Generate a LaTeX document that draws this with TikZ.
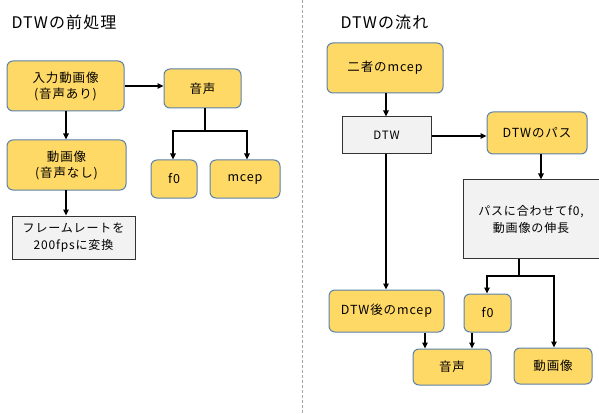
\documentclass[tikz,border=0pt]{standalone}
\usepackage{fontspec}
\setmainfont[LetterSpace=7]{Noto Sans CJK JP}
\usetikzlibrary{arrows.meta}
\definecolor{yel}{HTML}{FFD966}
\definecolor{ybord}{HTML}{5B80AB}
\definecolor{gfill}{HTML}{F2F2F2}
\tikzset{
  ybox/.style={draw=ybord, fill=yel, line width=1pt, rounded corners=6pt, align=center, font=\fontsize{12.5}{16}\selectfont},
  gbox/.style={draw=black!80, fill=gfill, line width=1pt, align=center, font=\fontsize{12}{17}\selectfont},
  conn/.style={line width=1.6pt, -{Triangle[length=6pt,width=5.5pt]}},
  plain/.style={line width=1.6pt},
  ttl/.style={font=\fontsize{16}{18}\selectfont, anchor=west}
}
\begin{document}
\begin{tikzpicture}[x=1pt,y=-1pt]
\useasboundingbox (0,0) rectangle (599,414);
\draw[gray!70, line width=0.8pt, dash pattern=on 3pt off 2pt] (302,0) -- (302,414);
% titles
\node[ttl] (t1) at (8,22) {DTWの前処理};
\node[ttl] (t2) at (337,22) {DTWの流れ};
% left nodes
\node[ybox, minimum width=117pt, minimum height=50pt] (in) at (65.5,86) {入力動画像\\(音声あり)};
\node[ybox, minimum width=77pt, minimum height=39pt] (ao) at (202.5,88.5) {音声};
\node[ybox, minimum width=119pt, minimum height=50pt] (mv) at (66.5,165) {動画像\\(音声なし)};
\node[gbox, minimum width=123pt, minimum height=43pt] (fr) at (73.5,237.5) {フレームレートを\\200fpsに変換};
\node[ybox, minimum width=46pt, minimum height=38pt] (f0l) at (174,179) {f0};
\node[ybox, minimum width=70pt, minimum height=38pt] (mcl) at (245,179) {mcep};
\coordinate (jl) at (205,131);
\draw[conn] (in.east |- 0,86) -- (ao.west |- 0,86);
\draw[conn] (66,111) -- (mv.north -| 66,0);
\draw[conn] (66,190) -- (fr.north -| 66,0);
\draw[plain] (ao.south -| jl) -- (jl);
\draw[conn] (jl) -| (f0l.north -| 173,0);
\draw[conn] (jl) -| (mcl.north -| 247,0);
% right nodes
\node[ybox, minimum width=116pt, minimum height=50pt] (two) at (385,68) {二者のmcep};
\node[gbox, minimum width=89pt, minimum height=37pt, font=\fontsize{11.5}{14}\selectfont] (dtw) at (386.5,135.5) {DTW};
\node[ybox, minimum width=100pt, minimum height=42pt] (path) at (537,133) {DTWのパス};
\node[gbox, minimum width=136pt, minimum height=78pt] (st) at (531,219) {パスに合わせてf0,\\動画像の伸長};
\node[ybox, minimum width=115pt, minimum height=42pt] (dm) at (386.5,311) {DTW後のmcep};
\node[ybox, minimum width=47pt, minimum height=38pt] (f0r) at (487.5,313) {f0};
\node[ybox, minimum width=78pt, minimum height=36pt] (aor) at (452,367) {音声};
\node[ybox, minimum width=78pt, minimum height=36pt] (mvr) at (553,366) {動画像};
\coordinate (jr) at (519,276);
\draw[conn] (two.south -| 386,0) -- (dtw.north -| 386,0);
\draw[conn] (dtw.east |- 0,136) -- (path.west |- 0,136);
\draw[conn] (path.south -| 541,0) -- (st.north -| 541,0);
\draw[conn] (dtw.south -| 386,0) -- (dm.north -| 386,0);
\draw[plain] (st.south -| jr) -- (jr);
\draw[conn] (jr) -| (f0r.north -| 487,0);
\draw[conn] (jr) -| (mvr.north -| 554,0);
\draw[conn] (dm.south -| 425,0) -- (aor.north -| 425,0);
\draw[conn] (f0r.south -| 472,0) -- (aor.north -| 472,0);
\end{tikzpicture}
\end{document}
